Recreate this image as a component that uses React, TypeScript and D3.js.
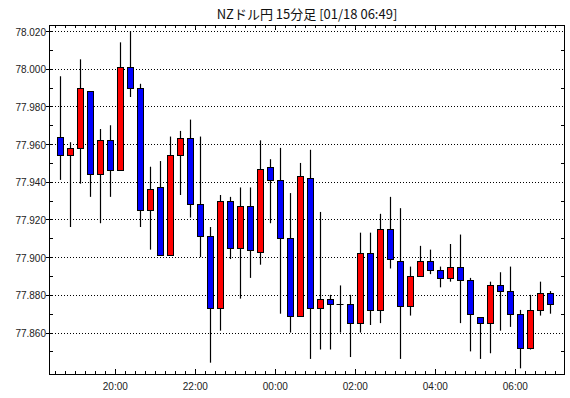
import { useEffect, useRef } from 'react';
import * as d3 from 'd3';

// 15-minute candles, first one starts 18:30 on 01/17
const title = 'NZドル円 15分足 [01/18 06:49]';
const startTime = new Date(2021, 0, 17, 18, 30);

const opens = [
  77.964, 77.954, 77.958, 77.988, 77.944, 77.962, 77.946, 78.001, 77.990, 77.925,
  77.937, 77.901, 77.954, 77.963, 77.928, 77.911, 77.873, 77.930, 77.905, 77.927,
  77.903, 77.948, 77.941, 77.910, 77.869, 77.942, 77.873, 77.878, 77.875, 77.875,
  77.865, 77.902, 77.872, 77.915, 77.898, 77.874, 77.890, 77.898, 77.893, 77.889,
  77.895, 77.888, 77.868, 77.865, 77.885, 77.882, 77.870, 77.852, 77.872, 77.881
];
const highs = [
  77.996, 77.961, 78.005, 77.988, 77.968, 77.970, 78.014, 78.020, 77.992, 77.948,
  77.951, 77.964, 77.967, 77.973, 77.964, 77.916, 77.933, 77.932, 77.937, 77.937,
  77.962, 77.952, 77.958, 77.934, 77.950, 77.957, 77.924, 77.880, 77.885, 77.880,
  77.913, 77.913, 77.923, 77.932, 77.926, 77.895, 77.906, 77.904, 77.895, 77.907,
  77.912, 77.889, 77.868, 77.887, 77.892, 77.895, 77.872, 77.880, 77.887, 77.882
];
const lows = [
  77.941, 77.916, 77.939, 77.932, 77.918, 77.932, 77.946, 77.985, 77.916, 77.904,
  77.901, 77.901, 77.933, 77.921, 77.900, 77.844, 77.861, 77.899, 77.878, 77.889,
  77.896, 77.918, 77.870, 77.860, 77.869, 77.846, 77.851, 77.851, 77.860, 77.847,
  77.860, 77.864, 77.865, 77.894, 77.846, 77.869, 77.890, 77.891, 77.884, 77.887,
  77.865, 77.850, 77.846, 77.849, 77.861, 77.863, 77.841, 77.851, 77.869, 77.870
];
const closes = [
  77.954, 77.958, 77.990, 77.944, 77.962, 77.946, 78.001, 77.990, 77.925, 77.936,
  77.901, 77.954, 77.963, 77.928, 77.911, 77.873, 77.930, 77.905, 77.927, 77.904,
  77.947, 77.941, 77.910, 77.869, 77.943, 77.873, 77.878, 77.875, 77.875, 77.865,
  77.902, 77.872, 77.915, 77.899, 77.874, 77.890, 77.898, 77.893, 77.889, 77.895,
  77.888, 77.870, 77.865, 77.885, 77.882, 77.870, 77.852, 77.872, 77.881, 77.875
];

const yLabelTicks = [77.86, 77.88, 77.9, 77.92, 77.94, 77.96, 77.98, 78.0, 78.02];
const yMinorTicks = [77.85, 77.87, 77.89, 77.91, 77.93, 77.95, 77.97, 77.99, 78.01];

export default function App() {
  const svgRef = useRef(null);

  useEffect(() => {
    document.body.style.margin = '0';
    const width = 570;
    const height = 398;
    const left = 49, right = 565, top = 25, bottom = 374;

    const svg = d3.select(svgRef.current);
    svg.selectAll('*').remove();
    svg.attr('width', width).attr('height', height);

    svg.append('rect').attr('width', width).attr('height', height).attr('fill', '#fff');

    const x = d3.scaleTime()
      .domain([new Date(2021, 0, 17, 18, 20, 30), new Date(2021, 0, 18, 7, 14, 30)])
      .range([left, right]);

    const y = d3.scaleLinear()
      .domain([77.838, 78.0232])
      .range([bottom, top]);

    const px = v => Math.round(v) + 0.5;

    // dotted grid
    yLabelTicks.forEach(v => {
      svg.append('line')
        .attr('x1', left).attr('x2', right)
        .attr('y1', px(y(v))).attr('y2', px(y(v)))
        .attr('stroke', '#000')
        .attr('stroke-dasharray', '1,2');
    });

    // y tick marks
    yMinorTicks.forEach(v => {
      if (y(v) < top || y(v) > bottom) return;
      svg.append('line').attr('x1', left).attr('x2', left + 4)
        .attr('y1', px(y(v))).attr('y2', px(y(v))).attr('stroke', '#000');
      svg.append('line').attr('x1', right - 4).attr('x2', right)
        .attr('y1', px(y(v))).attr('y2', px(y(v))).attr('stroke', '#000');
    });
    yLabelTicks.forEach(v => {
      svg.append('line').attr('x1', left - 3).attr('x2', left + 4)
        .attr('y1', px(y(v))).attr('y2', px(y(v))).attr('stroke', '#000');
      svg.append('text')
        .attr('x', 46)
        .attr('y', y(v) + 4.5)
        .attr('text-anchor', 'end')
        .style('font-family', '"Liberation Sans", Arial, sans-serif')
        .style('font-size', '10px')
        .attr('fill', '#222')
        .text(d3.format('.3f')(v));
    });

    // x tick marks
    const minor = d3.timeMinute.every(15).range(x.domain()[0], x.domain()[1]);
    minor.forEach(t => {
      const major = t.getMinutes() === 0 && t.getHours() % 2 === 0;
      const len = major ? 5 : 3;
      const xx = px(x(t));
      svg.append('line').attr('x1', xx).attr('x2', xx)
        .attr('y1', top).attr('y2', top + len).attr('stroke', '#000');
      svg.append('line').attr('x1', xx).attr('x2', xx)
        .attr('y1', bottom).attr('y2', bottom - len).attr('stroke', '#000');
      if (major) {
        svg.append('text')
          .attr('x', x(t))
          .attr('y', 389.5)
          .attr('text-anchor', 'middle')
          .style('font-family', '"Liberation Sans", Arial, sans-serif')
          .style('font-size', '10px')
          .attr('fill', '#222')
          .text(d3.timeFormat('%H:%M')(t));
      }
    });

    // candles
    opens.forEach((o, i) => {
      const c = closes[i];
      const t = new Date(startTime.getTime() + (i * 15 + 7.5) * 60000);
      const cx = px(x(t));
      svg.append('line')
        .attr('x1', cx).attr('x2', cx)
        .attr('y1', y(highs[i])).attr('y2', y(lows[i]))
        .attr('stroke', '#000')
        .attr('stroke-width', 1.2);
      const yTop = px(y(Math.max(o, c)));
      const yBot = px(y(Math.min(o, c)));
      if (yBot - yTop < 1) {
        svg.append('line')
          .attr('x1', cx - 4).attr('x2', cx + 3)
          .attr('y1', yTop).attr('y2', yTop)
          .attr('stroke', '#000');
        return;
      }
      svg.append('rect')
        .attr('x', cx - 3)
        .attr('y', yTop)
        .attr('width', 6)
        .attr('height', yBot - yTop)
        .attr('fill', c >= o ? '#ff0000' : '#0000ff')
        .attr('stroke', '#000')
        .attr('stroke-width', 1);
    });

    // frame
    svg.append('rect')
      .attr('x', left + 0.5).attr('y', top + 0.5)
      .attr('width', right - left - 1).attr('height', bottom - top)
      .attr('fill', 'none')
      .attr('stroke', '#000');

    svg.append('text')
      .attr('x', (left + right) / 2)
      .attr('y', 19)
      .attr('text-anchor', 'middle')
      .style('font-family', '"Noto Sans CJK JP", sans-serif')
      .style('font-size', '13px')
      .attr('fill', '#111')
      .text(title);
  }, []);

  return <svg ref={svgRef} style={{ display: 'block' }}></svg>;
}
